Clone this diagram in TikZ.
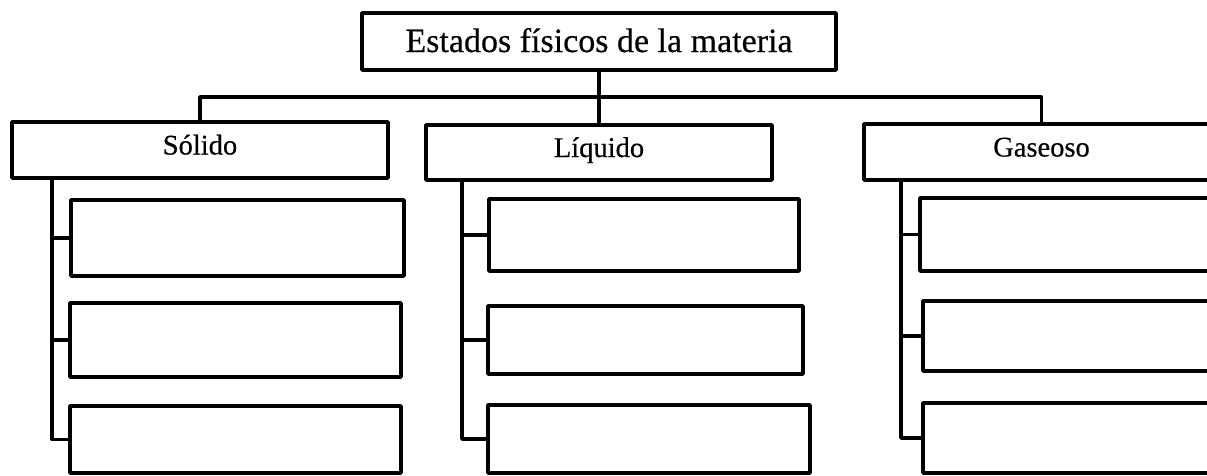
\documentclass[tikz,border=0pt]{standalone}
\usepackage{fontspec}
\setmainfont{Liberation Serif}[FakeBold=0.4]
\begin{document}
\begin{tikzpicture}[x=1pt,y=-1pt,
  box/.style={draw=black,line width=3.5pt,line join=round,fill=white,inner sep=0pt,outer sep=0pt},
  link/.style={draw=black,line width=3.5pt,line join=round},
  bigtxt/.style={font=\fontsize{34}{37}\selectfont,text height=24pt,text depth=3pt},
  midtxt/.style={font=\fontsize{28.5}{31}\selectfont,text height=21pt,text depth=12pt}]
\useasboundingbox (0,0) rectangle (1207,475);
\fill[white] (0,0) rectangle (1207,475);
\clip (0,0) rectangle (1207,475);
% top
\node[box,bigtxt,minimum width=474pt,minimum height=57pt] (top) at (599,41.5) {Estados físicos de la materia};
% categories
\node[box,midtxt,minimum width=376pt,minimum height=56pt] (sol) at (200,150) {Sólido};
\node[box,midtxt,minimum width=346pt,minimum height=55pt] (liq) at (599,152.5) {Líquido};
\node[box,midtxt,minimum width=355pt,minimum height=56pt] (gas) at (1041.5,152) {Gaseoso};
% children
\node[box,minimum width=333pt,minimum height=76pt] (s1) at (237.5,238) {};
\node[box,minimum width=331pt,minimum height=74pt] (s2) at (235.5,340) {};
\node[box,minimum width=331pt,minimum height=67pt] (s3) at (235.5,439.5) {};
\node[box,minimum width=310pt,minimum height=72pt] (l1) at (644,235) {};
\node[box,minimum width=315pt,minimum height=68pt] (l2) at (645.5,340) {};
\node[box,minimum width=322pt,minimum height=68pt] (l3) at (649,439) {};
\node[box,minimum width=305pt,minimum height=73pt] (g1) at (1072.5,234.5) {};
\node[box,minimum width=302pt,minimum height=70pt] (g2) at (1074,336) {};
\node[box,minimum width=302pt,minimum height=70pt] (g3) at (1074,438) {};
% connectors
\coordinate (bar) at (599,97);
\draw[link] (top.south) -- (liq.north);
\draw[link] (sol.north) |- (bar) -| (gas.north);
\coordinate (st) at ([xshift=40pt]sol.south west);
\coordinate (lt) at ([xshift=36pt]liq.south west);
\coordinate (gt) at ([xshift=37pt]gas.south west);
\draw[link] (st) |- (s3.west);
\draw[link] (st) |- (s1.west);
\draw[link] (st) |- (s2.west);
\draw[link] (lt) |- (l3.west);
\draw[link] (lt) |- (l1.west);
\draw[link] (lt) |- (l2.west);
\draw[link] (gt) |- (g3.west);
\draw[link] (gt) |- (g1.west);
\draw[link] (gt) |- (g2.west);
\end{tikzpicture}
\end{document}
